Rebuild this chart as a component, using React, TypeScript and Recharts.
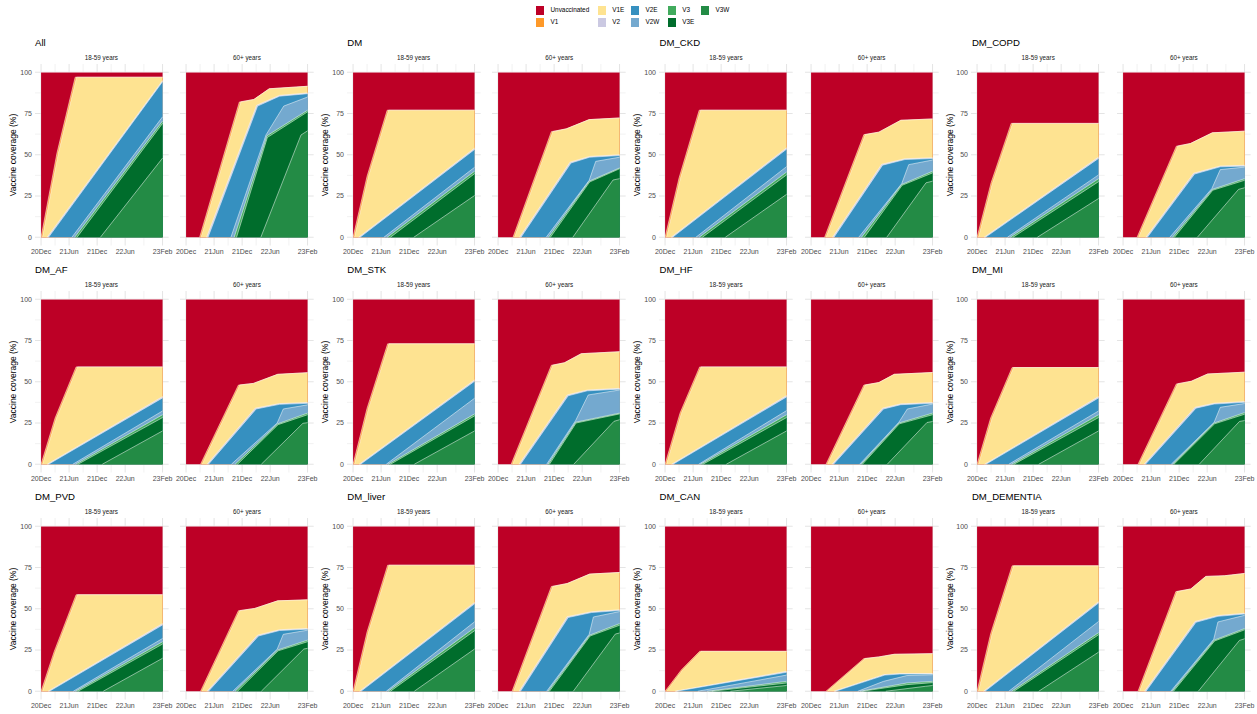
import React from "react";
import { AreaChart, Area, XAxis, YAxis, CartesianGrid } from "recharts";

type Pt = [number, number];

// ---- categories / labels ----
const seriesNames = ["Unvaccinated", "V1", "V1E", "V2", "V2E", "V2W", "V3", "V3E", "V3W"];
const groupNames = ["All", "DM", "DM_CKD", "DM_COPD", "DM_AF", "DM_STK", "DM_HF", "DM_MI", "DM_PVD", "DM_liver", "DM_CAN", "DM_DEMENTIA"];
const ageBands = ["18-59 years", "60+ years"];
// months since Dec 2020
const tickMonths = [0, 6, 12, 18, 26];
const tickLabels = ["20Dec", "21Jun", "21Dec", "22Jun", "23Feb"];
const minorMonths = [3, 9, 15, 22];
const yTicks = [0, 25, 50, 75, 100];
const yMinor = [12.5, 37.5, 62.5, 87.5];

// ---- data: cumulative coverage (%) at the top of each layer, [month, %] ----
// order: Unvaccinated, V1, V1E, V2, V2E, V2W, V3, V3E, V3W
const UNVAX: Pt[] = [[0, 100], [26, 100]];

const ALL_1859: Pt[][] = [UNVAX,
  [[0, 0], [3.4, 51], [7.3, 97], [26, 97]],
  [[0.3, 0], [3.7, 51], [7.6, 97], [26, 97]],
  [[1.3, 0], [26, 95]],
  [[1.6, 0], [26, 94.3]],
  [[6.6, 0], [26, 73]],
  [[7.2, 0], [26, 70.5]],
  [[7.7, 0], [26, 69]],
  [[12.7, 0], [26, 48]]];
const ALL_60: Pt[][] = [UNVAX,
  [[2.9, 0], [11.4, 82], [14.5, 83.5], [17.8, 90], [26, 91.5]],
  [[3.2, 0], [11.7, 82], [14.5, 83.5], [17.8, 90], [26, 91.5]],
  [[4.4, 0], [15.1, 80], [20, 86], [26, 87.5]],
  [[4.7, 0], [15.3, 79.5], [20, 85.5], [26, 87]],
  [[9.6, 0], [17.1, 62], [20.9, 79.5], [26, 85]],
  [[10.3, 0], [17.3, 61.5], [26, 77]],
  [[10.8, 0], [17.4, 60.5], [26, 76]],
  [[16, 0], [24.6, 62], [26, 64.5]]];

const DM_1859: Pt[][] = [UNVAX,
  [[0, 0], [3, 37], [7.3, 77], [26, 77]],
  [[0.3, 0], [3.3, 37], [7.6, 77], [26, 77]],
  [[1.2, 0], [26, 54]],
  [[1.5, 0], [26, 53.2]],
  [[6.6, 0], [26, 42.4]],
  [[7.3, 0], [26, 40]],
  [[8, 0], [26, 38.5]],
  [[13, 0], [26, 25.3]]];
const DM_60: Pt[][] = [UNVAX,
  [[3.2, 0], [11.4, 64], [14.6, 65.7], [19.5, 71.3], [26, 72.3]],
  [[3.5, 0], [11.7, 64], [14.6, 65.7], [19.5, 71.3], [26, 72.3]],
  [[4.6, 0], [15.4, 45.5], [19.6, 49], [26, 50]],
  [[4.9, 0], [15.6, 45], [19.6, 48.5], [26, 49.5]],
  [[10.3, 0], [19.5, 34.5], [20.9, 46], [26, 48.5]],
  [[10.8, 0], [19.5, 34], [26, 42]],
  [[11.2, 0], [19.6, 33.5], [26, 41.5]],
  [[16, 0], [24.6, 34.7], [26, 35.5]]];

const CKD_1859: Pt[][] = [UNVAX,
  [[0, 0], [3, 36], [7.3, 77], [26, 77]],
  [[0.3, 0], [3.3, 36], [7.6, 77], [26, 77]],
  [[1.3, 0], [26, 54.2]],
  [[1.6, 0], [26, 53.4]],
  [[6.6, 0], [26, 42.8]],
  [[7.3, 0], [26, 39.5]],
  [[8, 0], [26, 37.8]],
  [[12.9, 0], [26, 26]]];
const CKD_60: Pt[][] = [UNVAX,
  [[2.9, 0], [11.3, 62.2], [14.5, 63.7], [19.2, 70.9], [26, 71.7]],
  [[3.2, 0], [11.6, 62.2], [14.5, 63.7], [19.2, 70.9], [26, 71.7]],
  [[4.6, 0], [15.1, 44.2], [20.1, 47.6], [26, 48.2]],
  [[4.9, 0], [15.3, 43.7], [20.1, 47.1], [26, 47.7]],
  [[10.2, 0], [19.4, 32.5], [20.9, 44], [26, 46.8]],
  [[10.8, 0], [19.4, 32], [26, 40]],
  [[11.4, 0], [19.5, 31.5], [26, 39]],
  [[16.2, 0], [24.6, 33], [26, 34]]];

const COPD_1859: Pt[][] = [UNVAX,
  [[0, 0], [3, 33], [7.3, 69], [26, 69]],
  [[0.3, 0], [3.3, 33], [7.6, 69], [26, 69]],
  [[1.5, 0], [26, 48.6]],
  [[1.8, 0], [26, 47.8]],
  [[6.5, 0], [26, 37.8]],
  [[7.1, 0], [26, 35.5]],
  [[7.7, 0], [26, 33.7]],
  [[12.9, 0], [26, 23.5]]];
const COPD_60: Pt[][] = [UNVAX,
  [[3, 0], [11.4, 55.2], [14.4, 56.8], [19.1, 63.3], [26, 64.3]],
  [[3.3, 0], [11.7, 55.2], [14.4, 56.8], [19.1, 63.3], [26, 64.3]],
  [[4.9, 0], [15.1, 38.8], [20.8, 43.2], [26, 43.6]],
  [[5.2, 0], [15.3, 38.3], [20.8, 42.7], [26, 43.1]],
  [[10, 0], [19, 29.5], [20.8, 41], [26, 42.5]],
  [[10.6, 0], [19.1, 29], [26, 35.5]],
  [[11, 0], [19.2, 28.5], [26, 34.5]],
  [[15.9, 0], [24.7, 29], [26, 30]]];

const AF_1859: Pt[][] = [UNVAX,
  [[0, 0], [3, 28], [7.5, 59], [26, 59]],
  [[0.3, 0], [3.3, 28], [7.8, 59], [26, 59]],
  [[1.3, 0], [26, 41]],
  [[1.6, 0], [26, 40.2]],
  [[6.8, 0], [26, 32.3]],
  [[7.4, 0], [26, 30]],
  [[7.9, 0], [26, 28.3]],
  [[13.1, 0], [26, 20.2]]];
const AF_60: Pt[][] = [UNVAX,
  [[3.1, 0], [11.2, 48], [14.4, 49], [19.6, 54.5], [26, 55.5]],
  [[3.4, 0], [11.5, 48], [14.4, 49], [19.6, 54.5], [26, 55.5]],
  [[4.5, 0], [14.8, 34], [20, 36.8], [26, 37.4]],
  [[4.8, 0], [15, 33.5], [20, 36.3], [26, 36.9]],
  [[9.7, 0], [19.5, 25], [20.8, 33.5], [26, 36]],
  [[10.5, 0], [19.6, 24.5], [26, 31]],
  [[11, 0], [19.7, 24], [26, 30]],
  [[16.1, 0], [25, 24.8], [26, 25.2]]];

const STK_1859: Pt[][] = [UNVAX,
  [[0, 0], [3, 34], [7.4, 73], [26, 73]],
  [[0.3, 0], [3.3, 34], [7.7, 73], [26, 73]],
  [[1.3, 0], [26, 51.1]],
  [[1.6, 0], [26, 50.3]],
  [[7.1, 0], [26, 40]],
  [[7.5, 0], [26, 30.5]],
  [[8, 0], [26, 29.3]],
  [[13.1, 0], [26, 20.2]]];
const STK_60: Pt[][] = [UNVAX,
  [[2.8, 0], [11.4, 60], [14.2, 61.5], [17.8, 67], [26, 68.2]],
  [[3.1, 0], [11.7, 60], [14.2, 61.5], [17.8, 67], [26, 68.2]],
  [[4.5, 0], [14.8, 42], [19.1, 45], [26, 46]],
  [[4.8, 0], [15, 41.5], [19.1, 44.5], [26, 45.5]],
  [[10.4, 0], [16.6, 26.5], [19.3, 42], [26, 45]],
  [[10.7, 0], [16.6, 25.5], [26, 31]],
  [[11, 0], [16.7, 25], [26, 30.5]],
  [[16.2, 0], [24.8, 26], [26, 27]]];

const HF_1859: Pt[][] = [UNVAX,
  [[0, 0], [3.2, 31], [7.4, 59], [26, 59]],
  [[0.3, 0], [3.5, 31], [7.7, 59], [26, 59]],
  [[1.4, 0], [26, 41.6]],
  [[1.7, 0], [26, 40.8]],
  [[7.2, 0], [26, 32.5]],
  [[7.6, 0], [26, 30]],
  [[8.1, 0], [26, 28.3]],
  [[13.1, 0], [26, 20.2]]];
const HF_60: Pt[][] = [UNVAX,
  [[3.2, 0], [11.3, 48], [14.5, 49.5], [17.8, 54.5], [26, 55.6]],
  [[3.5, 0], [11.6, 48], [14.5, 49.5], [17.8, 54.5], [26, 55.6]],
  [[4.5, 0], [15.3, 34], [19.2, 36.6], [26, 37.4]],
  [[4.8, 0], [15.5, 33.5], [19.2, 36.1], [26, 36.9]],
  [[10.4, 0], [18.8, 25.5], [20.6, 33.5], [26, 36.5]],
  [[10.7, 0], [18.8, 25], [26, 31]],
  [[11, 0], [18.9, 24.5], [26, 30]],
  [[16.3, 0], [24.8, 25.3], [26, 25.9]]];

const MI_1859: Pt[][] = [UNVAX,
  [[0, 0], [2.9, 28], [7.5, 58.6], [26, 58.6]],
  [[0.3, 0], [3.2, 28], [7.8, 58.6], [26, 58.6]],
  [[1.6, 0], [26, 41]],
  [[1.9, 0], [26, 40.2]],
  [[6.8, 0], [26, 32.3]],
  [[7.4, 0], [26, 30]],
  [[7.9, 0], [26, 28.3]],
  [[13.2, 0], [26, 20.2]]];
const MI_60: Pt[][] = [UNVAX,
  [[3.2, 0], [11.4, 48.7], [14.6, 50.3], [18.1, 54.7], [26, 55.8]],
  [[3.5, 0], [11.7, 48.7], [14.6, 50.3], [18.1, 54.7], [26, 55.8]],
  [[4.5, 0], [15.4, 34.5], [19.5, 37], [26, 38]],
  [[4.8, 0], [15.6, 34], [19.5, 36.5], [26, 37.5]],
  [[10.3, 0], [19.5, 25.5], [20.8, 34.5], [26, 36.8]],
  [[10.6, 0], [19.5, 25], [26, 31.3]],
  [[10.9, 0], [19.6, 24.5], [26, 30.3]],
  [[16.3, 0], [24.9, 25.9], [26, 26.5]]];

const PVD_1859: Pt[][] = [UNVAX,
  [[0, 0], [2.8, 24], [7.5, 58.5], [26, 58.5]],
  [[0.3, 0], [3.1, 24], [7.8, 58.5], [26, 58.5]],
  [[1.5, 0], [26, 41]],
  [[1.8, 0], [26, 40.2]],
  [[6.9, 0], [26, 32]],
  [[7.4, 0], [26, 30]],
  [[7.9, 0], [26, 28.6]],
  [[13.3, 0], [26, 20]]];
const PVD_60: Pt[][] = [UNVAX,
  [[3.1, 0], [11.2, 48.8], [14.7, 50.2], [19.6, 54.8], [26, 55.4]],
  [[3.4, 0], [11.5, 48.8], [14.7, 50.2], [19.6, 54.8], [26, 55.4]],
  [[4.5, 0], [15.3, 34], [20, 37.3], [26, 38.1]],
  [[4.8, 0], [15.5, 33.5], [20, 36.8], [26, 37.6]],
  [[10, 0], [19.5, 25.5], [20.8, 34.5], [26, 37]],
  [[10.5, 0], [19.6, 25], [26, 31]],
  [[11, 0], [19.7, 24.5], [26, 30]],
  [[16.1, 0], [25.2, 25.6], [26, 26]]];

const LIVER_1859: Pt[][] = [UNVAX,
  [[0, 0], [3, 36], [7.4, 76.4], [26, 76.4]],
  [[0.3, 0], [3.3, 36], [7.7, 76.4], [26, 76.4]],
  [[1.4, 0], [26, 53.8]],
  [[1.7, 0], [26, 53]],
  [[7.1, 0], [26, 42.1]],
  [[7.5, 0], [26, 38.5]],
  [[8, 0], [26, 36.7]],
  [[13.1, 0], [26, 25.6]]];
const LIVER_60: Pt[][] = [UNVAX,
  [[3, 0], [11.4, 63.5], [14.8, 65.3], [19.6, 71], [26, 72]],
  [[3.3, 0], [11.7, 63.5], [14.8, 65.3], [19.6, 71], [26, 72]],
  [[4.5, 0], [14.8, 45.2], [20, 48.2], [26, 49.4]],
  [[4.8, 0], [15, 44.7], [20, 47.7], [26, 48.9]],
  [[10.4, 0], [19.5, 34.5], [20.4, 45], [26, 48.3]],
  [[10.7, 0], [19.6, 34], [26, 41]],
  [[11, 0], [19.7, 33.5], [26, 40]],
  [[16.1, 0], [25.1, 34.7], [26, 35.3]]];

const CAN_1859: Pt[][] = [UNVAX,
  [[0, 0], [3.5, 13], [7.4, 24.2], [26, 24.2]],
  [[0.3, 0], [3.8, 13], [7.7, 24.2], [26, 24.2]],
  [[2.1, 0], [26, 12.1]],
  [[2.4, 0], [26, 11.5]],
  [[7, 0], [26, 9.8]],
  [[9, 0], [26, 6]],
  [[10, 0], [26, 5]],
  [[14, 0], [26, 3.5]]];
const CAN_60: Pt[][] = [UNVAX,
  [[3.2, 0], [11.3, 19.8], [14.5, 20.8], [17.8, 22.4], [26, 22.8]],
  [[3.5, 0], [11.6, 19.8], [14.5, 20.8], [17.8, 22.4], [26, 22.8]],
  [[4.9, 0], [15.6, 10.1], [19, 10.7], [26, 10.7]],
  [[5.2, 0], [15.8, 9.8], [19, 10.4], [26, 10.4]],
  [[10, 0], [15.5, 6], [20.5, 9.5], [26, 10]],
  [[10.5, 0], [20.5, 5], [26, 6]],
  [[11, 0], [20.5, 4], [26, 5.2]],
  [[16, 0], [24.5, 3], [26, 3.5]]];

const DEM_1859: Pt[][] = [UNVAX,
  [[0, 0], [2.9, 34.8], [7.5, 76], [26, 76]],
  [[0.3, 0], [3.2, 34.8], [7.8, 76], [26, 76]],
  [[1.4, 0], [26, 54.3]],
  [[1.7, 0], [26, 53.5]],
  [[6.8, 0], [26, 42.3]],
  [[7.4, 0], [26, 35.5]],
  [[7.9, 0], [26, 34.2]],
  [[13.2, 0], [26, 23.7]]];
const DEM_60: Pt[][] = [UNVAX,
  [[3.2, 0], [11.3, 60.4], [14.5, 62], [17.7, 69.6], [21.7, 70], [26, 71.4]],
  [[3.5, 0], [11.6, 60.4], [14.5, 62], [17.7, 69.6], [21.7, 70], [26, 71.4]],
  [[4.6, 0], [15.4, 42.3], [20.3, 45.9], [26, 47.3]],
  [[4.9, 0], [15.6, 41.8], [20.3, 45.4], [26, 46.8]],
  [[10.2, 0], [19.4, 31.5], [20.3, 42], [26, 46]],
  [[10.5, 0], [19.5, 31], [26, 38]],
  [[10.8, 0], [19.6, 30.5], [26, 37.2]],
  [[16.1, 0], [24.9, 30.8], [26, 31.8]]];

const groupPanels: Pt[][][][] = [
  [ALL_1859, ALL_60], [DM_1859, DM_60], [CKD_1859, CKD_60], [COPD_1859, COPD_60],
  [AF_1859, AF_60], [STK_1859, STK_60], [HF_1859, HF_60], [MI_1859, MI_60],
  [PVD_1859, PVD_60], [LIVER_1859, LIVER_60], [CAN_1859, CAN_60], [DEM_1859, DEM_60],
];

// ---- styles ----
const COLORS: Record<string, string> = {
  Unvaccinated: "#BD0026", V1: "#FE9929", V1E: "#FEE391", V2: "#CBC9E2", V2E: "#3690C0",
  V2W: "#74A9CF", V3: "#41AB5D", V3E: "#006D2C", V3W: "#238B45",
};
const FONT = '"Liberation Sans", Arial, Helvetica, sans-serif';
const AXIS_GREY = "#4D4D4D";
const GRID = "#E4E4E4";

const COL_STEP = 312.3;
const ROW_STEP = 227;
const DATA_W = 121.5;
const DATA_H = 165;
const PANEL_W = DATA_W * 1.1;
const PANEL_H = DATA_H * 1.1;
const PANEL_LEFTS = [40.6 - DATA_W * 0.05, 186.2 - DATA_W * 0.05];
const PANEL_TOP = 72 - DATA_H * 0.05;
const XAXIS_H = 16;
const YAXIS_W = 24;
const PAD_L = 10;
const PAD_R = 14;

const axisRows = tickMonths.map((t) => ({ t }));

function Panel({ series, left, top, showY }: { series: Pt[][]; left: number; top: number; showY: boolean }) {
  const yW = showY ? YAXIS_W : 0;
  const padL = showY ? 0 : PAD_L;
  return (
    <div style={{ position: "absolute", left: left - yW - padL, top }}>
      <AreaChart
        width={PANEL_W + yW + padL + PAD_R}
        height={PANEL_H + XAXIS_H}
        data={axisRows}
        margin={{ top: 0, right: PAD_R, bottom: 0, left: padL }}
      >
        <CartesianGrid
          stroke={GRID}
          strokeWidth={1}
          verticalValues={tickMonths}
          horizontalValues={yTicks}
        />
        <CartesianGrid
          stroke={GRID}
          strokeWidth={0.5}
          verticalValues={minorMonths}
          horizontalValues={yMinor}
        />
        <XAxis
          type="number"
          dataKey="t"
          domain={[-1.3, 27.3]}
          allowDataOverflow
          ticks={tickMonths}
          interval={0}
          tickFormatter={(v: number) => tickLabels[tickMonths.indexOf(v)] ?? ""}
          height={XAXIS_H}
          axisLine={false}
          tickLine={false}
          tickSize={0}
          tickMargin={4}
          tick={{ fontSize: 7, fill: AXIS_GREY, fontFamily: FONT }}
        />
        <YAxis
          type="number"
          domain={[-5, 105]}
          allowDataOverflow
          ticks={yTicks}
          interval={0}
          hide={!showY}
          width={yW}
          axisLine={false}
          tickLine={false}
          tickSize={0}
          tickMargin={3}
          tick={{ fontSize: 7, fill: AXIS_GREY, fontFamily: FONT }}
        />
        {series.map((pts, i) => (
          <Area
            key={seriesNames[i]}
            name={seriesNames[i]}
            data={pts.map(([t, v]) => ({ t, v }))}
            dataKey="v"
            type="linear"
            baseValue={0}
            fill={COLORS[seriesNames[i]]}
            fillOpacity={1}
            stroke="#ffffff"
            strokeWidth={0.5}
            dot={false}
            activeDot={false}
            isAnimationActive={false}
          />
        ))}
      </AreaChart>
    </div>
  );
}

// legend layout: columns of (top, bottom) entries
const legendColumns: string[][] = [["Unvaccinated", "V1"], ["V1E", "V2"], ["V2E", "V2W"], ["V3", "V3E"], ["V3W"]];
const LEGEND_X = [535, 596.7, 630, 666.7, 700];
const LEGEND_Y = [5, 17.3];

export default function App() {
  const items: React.ReactNode[] = [];
  groupNames.forEach((g, gi) => {
    const c = gi % 4;
    const r = Math.floor(gi / 4);
    const ox = c * COL_STEP;
    const oy = r * ROW_STEP;
    items.push(
      <div key={g + "-title"} style={{ position: "absolute", left: 35 + ox, top: 42.7 + oy, transform: "translateY(-50%)", fontSize: 9.6, lineHeight: 1, color: "#000", whiteSpace: "nowrap" }}>
        {g}
      </div>
    );
    items.push(
      <div key={g + "-ylab"} style={{ position: "absolute", left: 12.7 + ox, top: PANEL_TOP + PANEL_H / 2 + oy, transform: "translate(-50%, -50%) rotate(-90deg)", fontSize: 8.5, lineHeight: 1, color: "#000", whiteSpace: "nowrap" }}>
        Vaccine coverage (%)
      </div>
    );
    ageBands.forEach((a, ai) => {
      const pl = PANEL_LEFTS[ai] + ox;
      items.push(
        <div key={g + a + "-strip"} style={{ position: "absolute", left: pl + PANEL_W / 2, top: 58.3 + oy, transform: "translate(-50%, -50%)", fontSize: 6.3, lineHeight: 1, color: "#1A1A1A", whiteSpace: "nowrap" }}>
          {a}
        </div>
      );
      items.push(<Panel key={g + a} series={groupPanels[gi][ai]} left={pl} top={PANEL_TOP + oy} showY={ai === 0} />);
    });
  });

  legendColumns.forEach((col, ci) => {
    col.forEach((name, ri) => {
      items.push(
        <div key={"lg-" + name} style={{ position: "absolute", left: LEGEND_X[ci], top: LEGEND_Y[ri], display: "flex", alignItems: "center", whiteSpace: "nowrap" }}>
          <div style={{ width: 10, height: 10.5, background: COLORS[name], boxSizing: "border-box", border: "0.5px solid #fff" }} />
          <span style={{ marginLeft: 5.5, fontSize: 6.4, lineHeight: 1, color: "#000" }}>{name}</span>
        </div>
      );
    });
  });

  return (
    <div style={{ position: "absolute", left: 0, top: 0, width: 1257, height: 714, background: "#fff", fontFamily: FONT, overflow: "hidden" }}>
      {items}
    </div>
  );
}
